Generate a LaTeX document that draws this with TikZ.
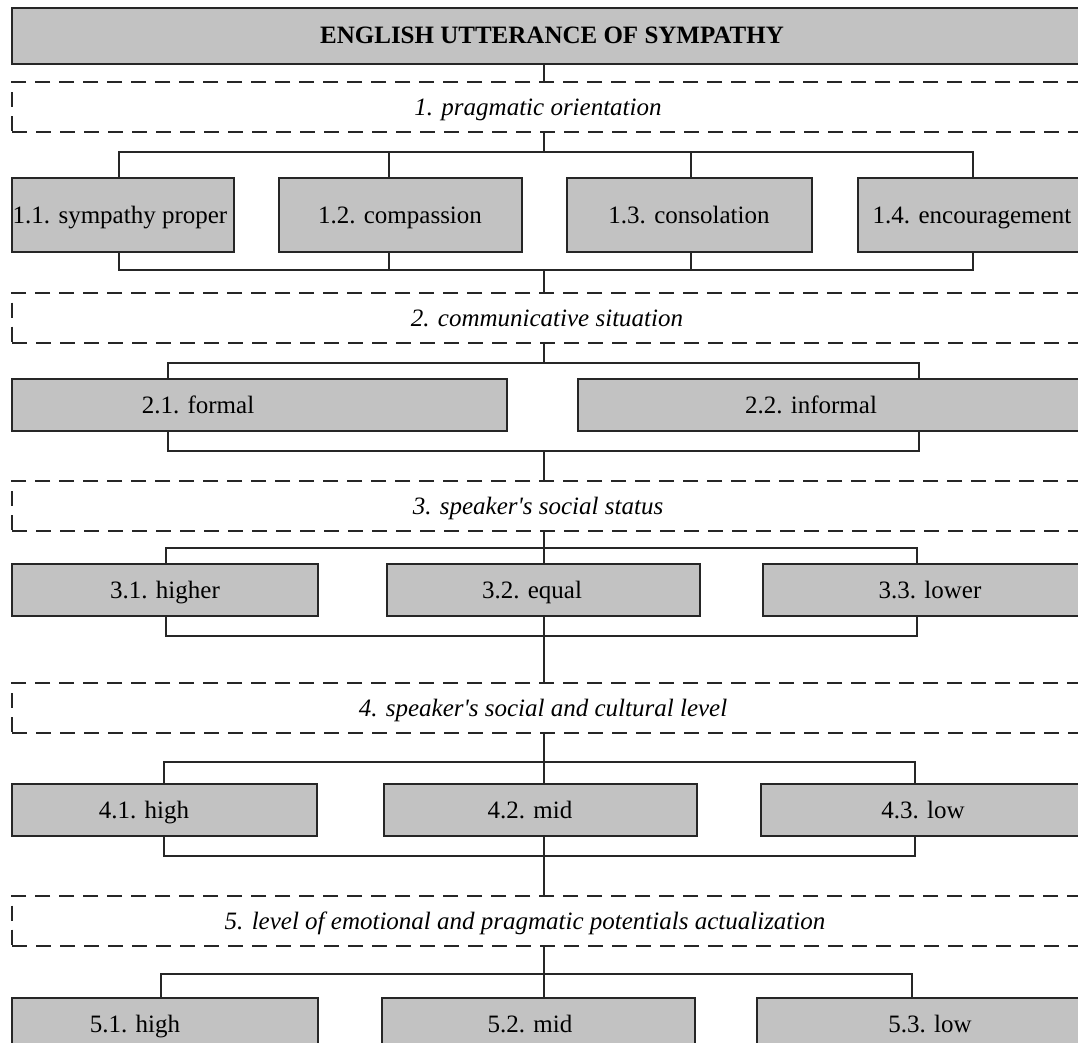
\documentclass[tikz,border=0pt]{standalone}
\usepackage{fontspec}
\setmainfont{Liberation Serif}[Ligatures=TeXOff]
\definecolor{boxgray}{RGB}{194,194,194}
\definecolor{inkline}{RGB}{38,38,38}

\begin{document}
\begin{tikzpicture}[x=1pt, y=-1pt,
  font=\fontsize{25}{30}\selectfont,
  catbox/.style={draw=inkline, line width=2pt, fill=boxgray, inner sep=0pt, outer sep=0pt, minimum height=52pt},
  levelbox/.style={draw=inkline, line width=2pt, dash pattern=on 15pt off 9pt, inner sep=0pt, outer sep=0pt, minimum width=1074pt, minimum height=50pt},
  leveltext/.style={anchor=base, font=\fontsize{25}{30}\selectfont\itshape},
  cattext/.style={anchor=base},
  link/.style={draw=inkline, line width=2pt}]

\useasboundingbox (0,0) rectangle (1078,1043);
\fill[white] (0,0) rectangle (1078,1043);

\node[catbox, minimum width=1074pt, minimum height=56pt] (title) at (549,36) {};
\node[cattext] (ttitle) at (552,44) {\bfseries ENGLISH UTTERANCE OF SYMPATHY};
\coordinate (spine) at (544,0);

% 1
\node[levelbox] (d1) at (549,107.5) {};
\node[leveltext] (t1) at (538,116) {1. pragmatic orientation};
\node[catbox, minimum width=222pt, minimum height=74pt] (b11) at (123,215) {};
\node[catbox, minimum width=243pt, minimum height=74pt] (b12) at (400.5,215) {};
\node[catbox, minimum width=245pt, minimum height=74pt] (b13) at (689.5,215) {};
\node[catbox, minimum width=228pt, minimum height=74pt] (b14) at (972,215) {};
\node[cattext] (t11) at (120,223) {1.1. sympathy proper};
\node[cattext] (t12) at (400,223) {1.2. compassion};
\node[cattext] (t13) at (689,223) {1.3. consolation};
\node[cattext] (t14) at (972,223) {1.4. encouragement};
\coordinate (c11) at (119,152);
\coordinate (c12) at (389,152);
\coordinate (c13) at (691,152);
\coordinate (c14) at (973,152);
\coordinate (e1) at (0,270);
\draw[link] (spine |- title.south) -- (spine |- d1.north);
\draw[link] (spine |- d1.south) -- (spine |- c11);
\draw[link] (c11 |- b11.north) -- (c11) -- (c14) -- (c14 |- b14.north);
\draw[link] (c12) -- (c12 |- b12.north);
\draw[link] (c13) -- (c13 |- b13.north);
\draw[link] (c11 |- b11.south) -- (c11 |- e1) -- (c14 |- e1) -- (c14 |- b14.south);
\draw[link] (c12 |- b12.south) -- (c12 |- e1);
\draw[link] (c13 |- b13.south) -- (c13 |- e1);

% 2
\node[levelbox] (d2) at (549,317.5) {};
\node[leveltext] (t2) at (547,326) {2. communicative situation};
\node[catbox, minimum width=495pt] (b21) at (259.5,405) {};
\node[catbox, minimum width=508pt] (b22) at (832,405) {};
\node[cattext] (t21) at (198,413) {2.1. formal};
\node[cattext] (t22) at (811,413) {2.2. informal};
\coordinate (c21) at (168,363);
\coordinate (c22) at (919,363);
\coordinate (e2) at (0,451);
\draw[link] (spine |- e1) -- (spine |- d2.north);
\draw[link] (spine |- d2.south) -- (spine |- c21);
\draw[link] (c21 |- b21.north) -- (c21) -- (c22) -- (c22 |- b22.north);
\draw[link] (c21 |- b21.south) -- (c21 |- e2) -- (c22 |- e2) -- (c22 |- b22.south);

% 3
\node[levelbox] (d3) at (549,506) {};
\node[leveltext] (t3) at (538,514) {3. speaker's social status};
\node[catbox, minimum width=306pt] (b31) at (165,590) {};
\node[catbox, minimum width=313pt] (b32) at (543.5,590) {};
\node[catbox, minimum width=323pt] (b33) at (924.5,590) {};
\node[cattext] (t31) at (165,598) {3.1. higher};
\node[cattext] (t32) at (532,598) {3.2. equal};
\node[cattext] (t33) at (930,598) {3.3. lower};
\coordinate (c31) at (166,548);
\coordinate (c33) at (917,548);
\coordinate (e3) at (0,636);
\draw[link] (spine |- e2) -- (spine |- d3.north);
\draw[link] (spine |- d3.south) -- (spine |- b32.north);
\draw[link] (c31 |- b31.north) -- (c31) -- (c33) -- (c33 |- b33.north);
\draw[link] (c31 |- b31.south) -- (c31 |- e3) -- (c33 |- e3) -- (c33 |- b33.south);

% 4
\node[levelbox] (d4) at (549,708) {};
\node[leveltext] (t4) at (543,716) {4. speaker's social and cultural level};
\node[catbox, minimum width=305pt] (b41) at (164.5,810) {};
\node[catbox, minimum width=313pt] (b42) at (540.5,810) {};
\node[catbox, minimum width=325pt] (b43) at (923.5,810) {};
\node[cattext] (t41) at (144,818) {4.1. high};
\node[cattext] (t42) at (530,818) {4.2. mid};
\node[cattext] (t43) at (923,818) {4.3. low};
\coordinate (c41) at (164,762);
\coordinate (c43) at (915,762);
\coordinate (e4) at (0,856);
\draw[link] (spine |- b32.south) -- (spine |- d4.north);
\draw[link] (spine |- d4.south) -- (spine |- b42.north);
\draw[link] (c41 |- b41.north) -- (c41) -- (c43) -- (c43 |- b43.north);
\draw[link] (c41 |- b41.south) -- (c41 |- e4) -- (c43 |- e4) -- (c43 |- b43.south);

% 5
\node[levelbox] (d5) at (549,920.5) {};
\node[leveltext] (t5) at (525,929) {5. level of emotional and pragmatic potentials actualization};
\node[catbox, minimum width=306pt] (b51) at (165,1024) {};
\node[catbox, minimum width=313pt] (b52) at (538.5,1024) {};
\node[catbox, minimum width=329pt] (b53) at (921.5,1024) {};
\node[cattext] (t51) at (135,1032) {5.1. high};
\node[cattext] (t52) at (530,1032) {5.2. mid};
\node[cattext] (t53) at (930,1032) {5.3. low};
\coordinate (c51) at (161,974);
\coordinate (c53) at (912,974);
\draw[link] (spine |- b42.south) -- (spine |- d5.north);
\draw[link] (spine |- d5.south) -- (spine |- b52.north);
\draw[link] (c51 |- b51.north) -- (c51) -- (c53) -- (c53 |- b53.north);
\end{tikzpicture}
\end{document}
